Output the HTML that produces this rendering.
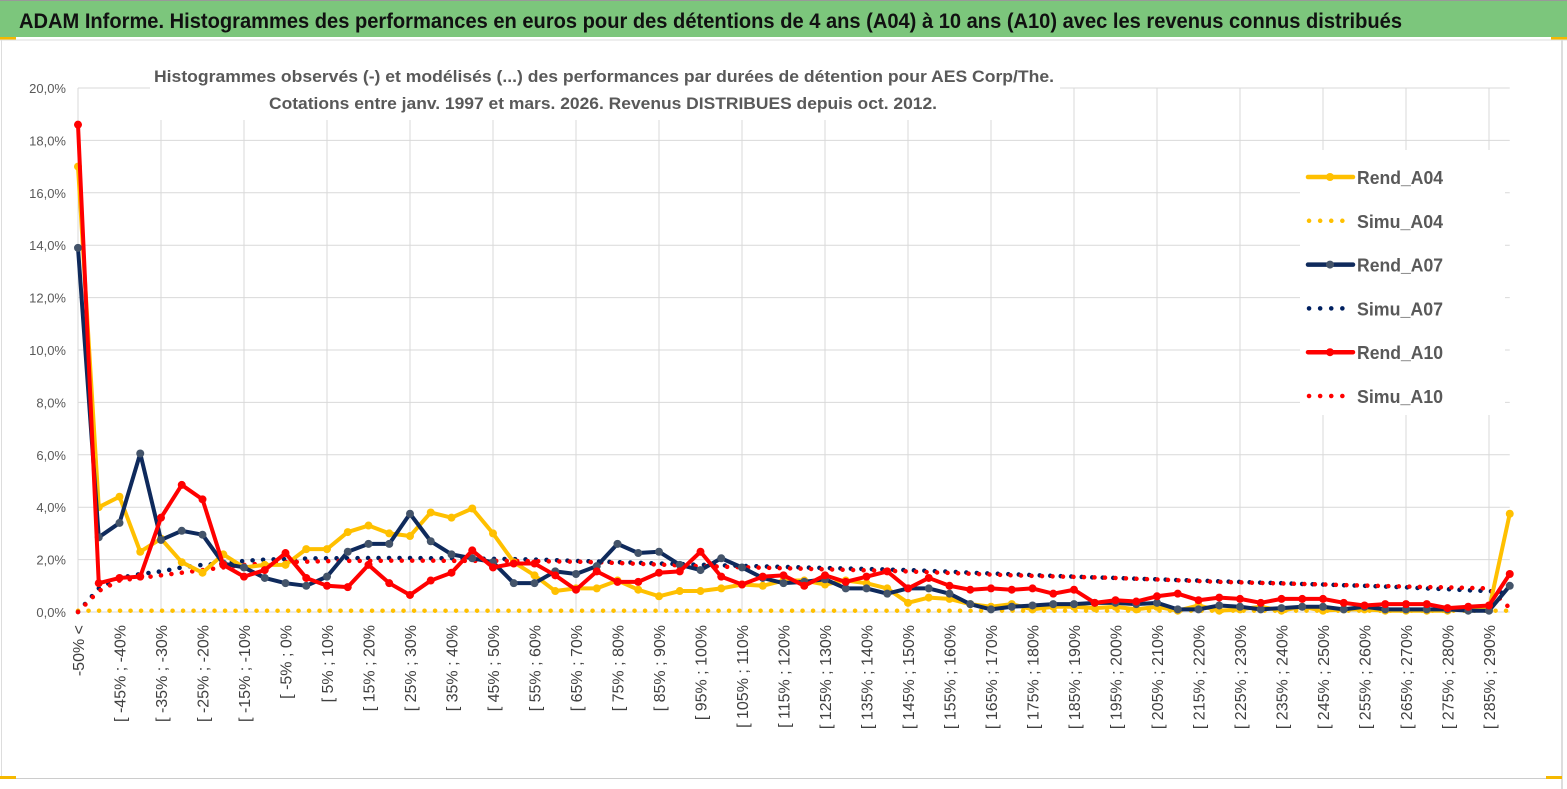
<!DOCTYPE html>
<html><head><meta charset="utf-8"><style>
html,body{margin:0;padding:0;background:#fff;}
svg{display:block;font-family:"Liberation Sans",sans-serif;}
</style></head><body>
<svg id="c" width="1567" height="789" viewBox="0 0 1567 789" xmlns="http://www.w3.org/2000/svg">
<rect x="0" y="0" width="1567" height="789" fill="#fff"/>
<rect x="0" y="0" width="1567" height="37" fill="#7cc67c"/>
<line x1="0" y1="0.5" x2="1567" y2="0.5" stroke="#999"/>
<rect x="0" y="37" width="16" height="3" fill="#f5b800"/>
<rect x="1551" y="37" width="16" height="3" fill="#f5b800"/>
<line x1="1562" y1="40" x2="1562" y2="789" stroke="#bbb"/>
<line x1="0" y1="40" x2="1567" y2="40" stroke="#ddd"/>
<line x1="1.5" y1="40" x2="1.5" y2="778" stroke="#ddd"/>
<line x1="0" y1="778.5" x2="1562" y2="778.5" stroke="#ccc"/>
<rect x="0" y="776" width="16" height="3" fill="#f5b800"/>
<rect x="1546" y="776" width="16" height="3" fill="#f5b800"/>
<text x="19" y="28" font-size="21" font-weight="bold" fill="#111" textLength="1383" lengthAdjust="spacingAndGlyphs">ADAM Informe. Histogrammes des performances en euros pour des détentions de 4 ans (A04) à 10 ans (A10) avec les revenus connus distribués</text>
<g id="grid"></g>
<rect x="150" y="58" width="910" height="62" fill="#fff"/>
<text x="154" y="82" font-size="17" font-weight="bold" fill="#595959" textLength="900" lengthAdjust="spacingAndGlyphs">Histogrammes observés (-) et modélisés (...) des performances par durées de détention pour AES Corp/The.</text>
<text x="269" y="109" font-size="17" font-weight="bold" fill="#595959" textLength="668" lengthAdjust="spacingAndGlyphs">Cotations entre janv. 1997 et mars. 2026. Revenus DISTRIBUES depuis oct. 2012.</text>
<g id="axes"></g>
<g id="series"></g>
<g id="legend"></g>
</svg>
<script>
const rendA04=[17.0,4.0,4.4,2.3,2.8,1.9,1.5,2.2,1.7,1.8,1.8,2.4,2.4,3.05,3.3,3.0,2.9,3.8,3.6,3.95,3.0,1.9,1.4,0.8,0.9,0.9,1.2,0.85,0.6,0.8,0.8,0.9,1.05,1.0,1.2,1.2,1.05,1.2,1.1,0.9,0.35,0.55,0.5,0.3,0.2,0.3,0.1,0.2,0.2,0.15,0.2,0.1,0.2,0.05,0.25,0.05,0.1,0.2,0.05,0.2,0.05,0.1,0.1,0.05,0.05,0.05,0.05,0.15,0.1,3.75];
const rendA07=[13.9,2.85,3.4,6.05,2.75,3.1,2.95,1.85,1.7,1.3,1.1,1.0,1.35,2.3,2.6,2.6,3.75,2.7,2.2,2.05,1.9,1.1,1.1,1.55,1.45,1.75,2.6,2.25,2.3,1.8,1.6,2.05,1.7,1.3,1.1,1.15,1.25,0.9,0.9,0.7,0.9,0.9,0.7,0.3,0.1,0.2,0.25,0.3,0.3,0.35,0.35,0.3,0.35,0.1,0.1,0.25,0.2,0.1,0.15,0.2,0.2,0.1,0.2,0.1,0.1,0.1,0.1,0.05,0.05,1.0];
const rendA10=[18.6,1.1,1.3,1.35,3.6,4.85,4.3,1.8,1.35,1.6,2.25,1.3,1.0,0.95,1.8,1.1,0.65,1.2,1.5,2.35,1.7,1.85,1.85,1.4,0.85,1.55,1.15,1.15,1.5,1.55,2.3,1.35,1.05,1.35,1.4,1.0,1.4,1.15,1.35,1.55,0.9,1.3,1.0,0.85,0.9,0.85,0.9,0.7,0.85,0.35,0.45,0.4,0.6,0.7,0.45,0.55,0.5,0.35,0.5,0.5,0.5,0.35,0.25,0.3,0.3,0.3,0.15,0.2,0.25,1.45];
const simuA04=[0.05,0.05,0.05,0.05,0.05,0.05,0.05,0.05,0.05,0.05,0.05,0.05,0.05,0.05,0.05,0.05,0.05,0.05,0.05,0.05,0.05,0.05,0.05,0.05,0.05,0.05,0.05,0.05,0.05,0.05,0.05,0.05,0.05,0.05,0.05,0.05,0.05,0.05,0.05,0.05,0.05,0.05,0.05,0.05,0.05,0.05,0.05,0.05,0.05,0.05,0.05,0.05,0.05,0.05,0.05,0.05,0.05,0.05,0.05,0.05,0.05,0.05,0.05,0.05,0.05,0.05,0.05,0.05,0.05,0.05];
const simuA07=[0,0.9,1.3,1.45,1.55,1.7,1.8,1.85,1.95,2.0,2.02,2.04,2.05,2.05,2.06,2.06,2.06,2.05,2.05,2.04,2.03,2.02,2.0,1.98,1.95,1.93,1.9,1.88,1.85,1.83,1.8,1.78,1.76,1.74,1.72,1.7,1.68,1.66,1.64,1.62,1.6,1.57,1.54,1.5,1.47,1.44,1.41,1.38,1.35,1.32,1.3,1.27,1.25,1.22,1.2,1.17,1.15,1.12,1.1,1.07,1.05,1.02,1.0,0.97,0.94,0.9,0.87,0.83,0.8,0.7];
const simuA10=[0,0.8,1.2,1.3,1.4,1.5,1.6,1.7,1.8,1.85,1.9,1.92,1.94,1.95,1.95,1.96,1.96,1.96,1.95,1.95,1.95,1.95,1.94,1.93,1.92,1.9,1.87,1.84,1.81,1.78,1.75,1.73,1.71,1.69,1.67,1.65,1.63,1.61,1.59,1.57,1.55,1.52,1.49,1.46,1.43,1.4,1.38,1.36,1.34,1.32,1.3,1.27,1.24,1.21,1.18,1.15,1.13,1.11,1.09,1.07,1.05,1.03,1.01,0.99,0.97,0.95,0.94,0.92,0.9,0.15];
const yTicks=[0,2,4,6,8,10,12,14,16,18,20];
const categories=[];
categories.push('-50% <');
for(let i=1;i<69;i++){const a=-50+5*(i-1);categories.push('[ '+a+'% ; '+(a+5)+'%');}
categories.push('290% >');

const NS='http://www.w3.org/2000/svg';
const X0=78,DX=20.75,Y0=612,PY=26.2;
const xs=i=>X0+DX*i, ys=v=>Y0-v*PY;
function mk(tag,at,parent){const e=document.createElementNS(NS,tag);for(const k in at)e.setAttribute(k,at[k]);parent.appendChild(e);return e;}
const grid=document.getElementById('grid'),axes=document.getElementById('axes'),ser=document.getElementById('series'),leg=document.getElementById('legend');
yTicks.forEach(t=>{
  const l=mk('line',{x1:X0,x2:xs(69),y1:ys(t),y2:ys(t),stroke:'#d9d9d9','stroke-width':1},grid);
  
  
  const tx=mk('text',{x:66,y:ys(t)+5,'font-size':13,fill:'#595959','text-anchor':'end'},axes);
  tx.textContent=t.toFixed(1).replace('.',',')+'%';
  
  
});
for(let i=0;i<70;i+=4){
  const l=mk('line',{x1:xs(i),x2:xs(i),y1:ys(20),y2:Y0,stroke:'#d9d9d9','stroke-width':1},grid);
  
  
}
categories.forEach((c,i)=>{
  if(i%2) return;
  const x=xs(i)+6,y=625;
  const tx=mk('text',{x:x,y:y,'font-size':16,fill:'#404040','text-anchor':'end',transform:'rotate(-90 '+x+' '+y+')'},axes);
  tx.textContent=c;
  
  
});
function dotted(arr,color,name){
  const g=mk('g',{},ser);
  
  
  const pts=arr.map((v,i)=>xs(i)+','+ys(v)).join(' ');
  mk('polyline',{points:pts,fill:'none',stroke:color,'stroke-width':4.5,'stroke-dasharray':'0.1 10.4','stroke-linecap':'round'},g);
}
function solid(arr,color,mcolor,name){
  const g=mk('g',{},ser);
  
  
  const pts=arr.map((v,i)=>xs(i)+','+ys(v)).join(' ');
  mk('polyline',{points:pts,fill:'none',stroke:color,'stroke-width':4,'stroke-linejoin':'round'},g);
  arr.forEach((v,i)=>{
    const c=mk('circle',{cx:xs(i),cy:ys(v),r:4,fill:mcolor},g);
    
    
  });
}
dotted(simuA04,'#ffc000','series-simu-a04');
dotted(simuA07,'#002060','series-simu-a07');
dotted(simuA10,'#ff0000','series-simu-a10');
solid(rendA04,'#ffc000','#ffc000','series-rend-a04');
solid(rendA07,'#0f2a5c','#44546a','series-rend-a07');
solid(rendA10,'#ff0000','#ff0000','series-rend-a10');

mk('rect',{x:1300,y:150,width:205,height:265,fill:'#fff'},leg);
const items=[['Rend_A04','#ffc000','#ffc000',0],['Simu_A04','#ffc000','',1],['Rend_A07','#0f2a5c','#44546a',0],['Simu_A07','#002060','',1],['Rend_A10','#ff0000','#ff0000',0],['Simu_A10','#ff0000','',1]];
items.forEach((it,k)=>{
  const y=177+k*43.8;
  const g=mk('g',{},leg);
  
  
  if(it[3]){
    mk('line',{x1:1309,x2:1352,y1:y,y2:y,stroke:it[1],'stroke-width':4.5,'stroke-dasharray':'0.1 11','stroke-linecap':'round'},g);
  } else {
    mk('line',{x1:1308,x2:1353,y1:y,y2:y,stroke:it[1],'stroke-width':4.5,'stroke-linecap':'round'},g);
    mk('circle',{cx:1330,cy:y,r:4,fill:it[2]},g);
  }
  const t=mk('text',{x:1357,y:y+7,'font-size':18,'font-weight':'bold',fill:'#595959',textLength:86,lengthAdjust:'spacingAndGlyphs'},g);
  t.textContent=it[0];
});
</script>
</body></html>
